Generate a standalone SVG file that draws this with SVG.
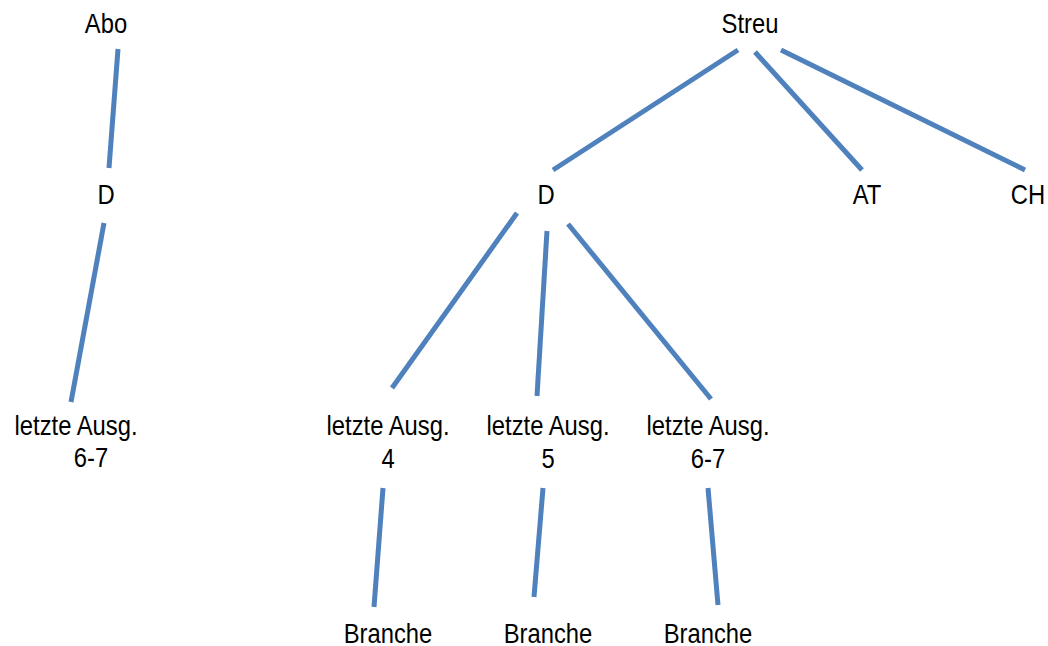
<svg xmlns="http://www.w3.org/2000/svg" width="1048" height="646" viewBox="0 0 1048 646">
  <style>
    .lbl { font-family: "Liberation Sans", Arial, sans-serif; font-size: 28px; fill: #000; text-anchor: middle; }
    .edge { stroke: #4F81BD; stroke-width: 5; fill: none; stroke-linecap: butt; }
  </style>
  <rect width="1048" height="646" fill="#ffffff"/>

  <!-- connectors -->
  <g id="connectors">
    <line class="edge" x1="118" y1="49" x2="109" y2="168"/>
    <line class="edge" x1="104" y1="223" x2="71" y2="402"/>
    <line class="edge" x1="738" y1="50" x2="553" y2="170"/>
    <line class="edge" x1="755" y1="52" x2="862" y2="170"/>
    <line class="edge" x1="781" y1="50" x2="1025" y2="170"/>
    <line class="edge" x1="517" y1="213" x2="392" y2="388"/>
    <line class="edge" x1="547" y1="231" x2="537" y2="396"/>
    <line class="edge" x1="568" y1="224" x2="711" y2="399"/>
    <line class="edge" x1="383" y1="488" x2="374" y2="607"/>
    <line class="edge" x1="543" y1="488" x2="534" y2="597"/>
    <line class="edge" x1="708" y1="488" x2="718" y2="605"/>
  </g>

  <!-- left tree -->
  <g id="abo" transform="translate(106,0)"><text class="lbl" transform="scale(0.85,1)" y="33">Abo</text></g>
  <g id="abo-d" transform="translate(106,0)"><text class="lbl" transform="scale(0.85,1)" y="204">D</text></g>
  <g id="abo-d-ausg">
    <g transform="translate(76,0)"><text class="lbl" transform="scale(0.85,1)" y="435">letzte Ausg.</text></g>
    <g transform="translate(91,0)"><text class="lbl" transform="scale(0.85,1)" y="467">6-7</text></g>
  </g>

  <!-- right tree -->
  <g id="streu" transform="translate(750,0)"><text class="lbl" transform="scale(0.85,1)" y="33">Streu</text></g>
  <g id="streu-d" transform="translate(546,0)"><text class="lbl" transform="scale(0.85,1)" y="204">D</text></g>
  <g id="streu-at" transform="translate(867,0)"><text class="lbl" transform="scale(0.85,1)" y="204">AT</text></g>
  <g id="streu-ch" transform="translate(1028,0)"><text class="lbl" transform="scale(0.85,1)" y="204">CH</text></g>

  <g id="ausg-4" transform="translate(388,0)">
    <text class="lbl" transform="scale(0.85,1)" y="435">letzte Ausg.</text>
    <text class="lbl" transform="scale(0.85,1)" y="468">4</text>
  </g>
  <g id="ausg-5" transform="translate(548,0)">
    <text class="lbl" transform="scale(0.85,1)" y="435">letzte Ausg.</text>
    <text class="lbl" transform="scale(0.85,1)" y="468">5</text>
  </g>
  <g id="ausg-6-7" transform="translate(708,0)">
    <text class="lbl" transform="scale(0.85,1)" y="435">letzte Ausg.</text>
    <text class="lbl" transform="scale(0.85,1)" y="468">6-7</text>
  </g>

  <g id="branche-4" transform="translate(388,0)"><text class="lbl" transform="scale(0.85,1)" y="643">Branche</text></g>
  <g id="branche-5" transform="translate(548,0)"><text class="lbl" transform="scale(0.85,1)" y="643">Branche</text></g>
  <g id="branche-6-7" transform="translate(708,0)"><text class="lbl" transform="scale(0.85,1)" y="643">Branche</text></g>
</svg>
